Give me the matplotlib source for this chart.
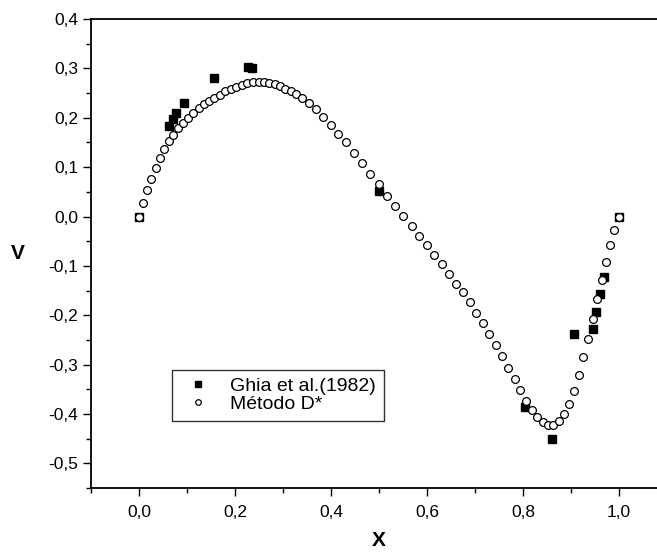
import matplotlib
matplotlib.use('Agg')
import matplotlib.pyplot as plt
from matplotlib.ticker import MultipleLocator, FuncFormatter

# Ghia et al. (1982) reference points
ghia_x = [0.0000, 0.0625, 0.0703, 0.0781, 0.0938, 0.1563, 0.2266, 0.2344, 0.5000,
          0.8047, 0.8594, 0.9063, 0.9453, 0.9531, 0.9609, 0.9688, 1.0000]
ghia_v = [0.0000, 0.1836, 0.1971, 0.2092, 0.2297, 0.2812, 0.3020, 0.3017, 0.0519,
          -0.3860, -0.4499, -0.2383, -0.2285, -0.1925, -0.1566, -0.1215, 0.0000]

# Metodo D* results
metodo_x = [0.000, 0.008, 0.017, 0.026, 0.035, 0.044, 0.053, 0.062, 0.071, 0.082,
            0.092, 0.103, 0.113, 0.124, 0.135, 0.146, 0.157, 0.169, 0.180, 0.191,
            0.202, 0.214, 0.226, 0.237, 0.249, 0.260, 0.271, 0.283, 0.294, 0.305,
            0.317, 0.327, 0.339, 0.354, 0.368, 0.384, 0.399, 0.415, 0.431, 0.448,
            0.464, 0.481, 0.499, 0.516, 0.533, 0.551, 0.568, 0.584, 0.599, 0.615,
            0.631, 0.646, 0.660, 0.674, 0.690, 0.703, 0.716, 0.730, 0.744, 0.756,
            0.769, 0.783, 0.794, 0.806, 0.818, 0.830, 0.841, 0.853, 0.863, 0.875,
            0.885, 0.896, 0.906, 0.916, 0.926, 0.936, 0.945, 0.955, 0.964, 0.973,
            0.981, 0.990, 1.000]
metodo_v = [0.000, 0.028, 0.054, 0.076, 0.098, 0.119, 0.137, 0.153, 0.166, 0.179,
            0.190, 0.200, 0.210, 0.219, 0.227, 0.234, 0.241, 0.247, 0.254, 0.259,
            0.263, 0.267, 0.270, 0.272, 0.272, 0.272, 0.271, 0.268, 0.264, 0.259,
            0.254, 0.248, 0.241, 0.230, 0.218, 0.202, 0.186, 0.168, 0.150, 0.129,
            0.108, 0.086, 0.065, 0.042, 0.022, 0.001, -0.019, -0.039, -0.058, -0.078,
            -0.097, -0.116, -0.136, -0.153, -0.174, -0.196, -0.216, -0.238, -0.261, -0.282,
            -0.306, -0.329, -0.352, -0.373, -0.392, -0.406, -0.416, -0.422, -0.422, -0.415,
            -0.400, -0.380, -0.354, -0.321, -0.285, -0.248, -0.207, -0.168, -0.129, -0.092,
            -0.058, -0.028, 0.000]

plt.rcParams['font.family'] = ['Liberation Sans', 'DejaVu Sans']

fig = plt.figure(figsize=(6.57, 5.53), dpi=100)
# axes run a little past the right edge, like the cropped original
ax = fig.add_axes([0.1385, 0.1175, 0.8767, 0.848])

ax.plot(ghia_x, ghia_v, linestyle='none', marker='s', markersize=5.8,
        color='black', label='Ghia et al.(1982)', zorder=2)
ax.plot(metodo_x, metodo_v, linestyle='none', marker='o', markersize=5.6,
        markerfacecolor='white', markeredgecolor='black', markeredgewidth=0.9,
        label='Método D*', zorder=3)

ax.set_xlim(-0.1, 1.1)
ax.set_ylim(-0.55, 0.4)

# comma decimal tick labels
comma = FuncFormatter(lambda v, p: f"{v + 0.0:.1f}".replace('.', ','))
ax.xaxis.set_major_locator(MultipleLocator(0.2))
ax.xaxis.set_minor_locator(MultipleLocator(0.1))
ax.yaxis.set_major_locator(MultipleLocator(0.1))
ax.yaxis.set_minor_locator(MultipleLocator(0.05))
ax.xaxis.set_major_formatter(comma)
ax.yaxis.set_major_formatter(comma)

ax.tick_params(which='major', direction='out', length=6, width=1.0, labelsize=12.5)
ax.tick_params(which='minor', direction='out', length=3.5, width=1.0)
ax.tick_params(axis='x', pad=6)
ax.tick_params(axis='y', pad=3)

for side in ['left', 'bottom', 'top', 'right']:
    ax.spines[side].set_linewidth(1.3)

ax.set_xlabel('X', fontsize=15, fontweight='bold', labelpad=8)
ax.set_ylabel('V', fontsize=15, fontweight='bold', rotation=0, labelpad=22, va='center')

leg = ax.legend(loc='upper left', bbox_to_anchor=(162 / 657, 1 - 360 / 553),
                bbox_transform=fig.transFigure, fontsize=14, frameon=True,
                fancybox=False, edgecolor='black',
                handletextpad=0.7, borderpad=0.4, labelspacing=0.0, handlelength=1.9)
leg.get_frame().set_linewidth(1.0)
leg.legend_handles[0].set_markersize(5.0)
leg.legend_handles[1].set_markersize(4.0)

fig.savefig('out.png', dpi=100)
